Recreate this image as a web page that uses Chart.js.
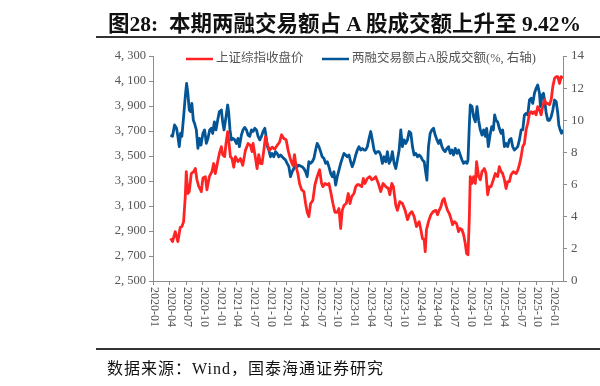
<!DOCTYPE html>
<html><head><meta charset="utf-8">
<script src="https://cdn.jsdelivr.net/npm/chart.js@4"></script>
<style>
html,body{margin:0;padding:0;background:#fff;}
#wrap{position:relative;width:600px;height:386px;overflow:hidden;}
canvas{position:absolute;left:0;top:0;}
#title{position:absolute;left:108px;top:6px;font:bold 21.5px "Liberation Serif","Noto Sans CJK SC";color:#111;white-space:nowrap;}
#l1{position:absolute;left:96px;top:36px;width:504px;height:2px;background:#333;}
#l2{position:absolute;left:96px;top:348px;width:504px;height:2px;background:#333;}
#src{position:absolute;left:107px;top:355px;font:16px "Liberation Serif","Noto Sans CJK SC";letter-spacing:1px;color:#111;white-space:nowrap;}
</style></head>
<body><div id="wrap">
<canvas id="c" width="600" height="386"></canvas>
<div id="title">图28:&nbsp; 本期两融交易额占 A 股成交额上升至 9.42%</div>
<div id="l1"></div>
<div id="src">数据来源：Wind，国泰海通证券研究</div>
<div id="l2"></div>
</div>
<script>
const seriesNames = ["上证综指收盘价", "两融交易额占A股成交额(%, 右轴)"];
const leftTicks = [2500, 4300, 200];
const rightTicks = [0, 14, 2];
const xRange = [2020.0, 2026.15];

const redDates = [2020.263,2020.293,2020.334,2020.373,2020.409,2020.433,2020.459,2020.484,2020.499,2020.523,2020.544,2020.574,2020.609,2020.635,2020.659,2020.684,2020.725,2020.749,2020.785,2020.809,2020.845,2020.884,2020.910,2020.935,2020.959,2020.995,
2021.026,2021.045,2021.075,2021.095,2021.120,2021.135,2021.161,2021.185,2021.211,2021.236,2021.275,2021.311,2021.346,2021.386,2021.426,2021.462,2021.486,2021.501,2021.526,2021.561,2021.586,2021.612,2021.636,2021.662,2021.687,2021.711,2021.747,2021.787,2021.827,2021.862,2021.898,2021.928,2021.962,2021.997,
2022.027,2022.063,2022.098,2022.123,2022.147,2022.173,2022.198,2022.229,2022.263,2022.289,2022.313,2022.338,2022.364,2022.398,2022.429,2022.463,2022.499,2022.529,2022.549,2022.579,2022.614,2022.639,2022.665,2022.699,2022.729,2022.764,2022.789,2022.815,2022.839,2022.865,2022.899,2022.929,2022.955,2022.980,
2023.015,2023.041,2023.065,2023.090,2023.131,2023.155,2023.180,2023.215,2023.251,2023.281,2023.316,2023.341,2023.380,2023.416,2023.451,2023.492,2023.531,2023.552,2023.582,2023.606,2023.642,2023.666,2023.702,2023.741,2023.782,2023.817,2023.853,2023.883,2023.917,2023.952,2023.992,
2024.018,2024.042,2024.068,2024.083,2024.102,2024.132,2024.168,2024.203,2024.244,2024.268,2024.293,2024.319,2024.343,2024.368,2024.394,2024.418,2024.444,2024.469,2024.493,2024.519,2024.553,2024.583,2024.605,2024.635,2024.659,2024.684,2024.704,2024.725,2024.744,2024.759,2024.785,2024.809,2024.835,2024.854,2024.884,2024.910,2024.935,2024.970,2024.995,
2025.020,2025.045,2025.071,2025.105,2025.135,2025.170,2025.195,2025.221,2025.245,2025.271,2025.296,2025.320,2025.346,2025.371,2025.406,2025.447,2025.471,2025.496,2025.522,2025.546,2025.571,2025.597,2025.621,2025.647,2025.672,2025.696,2025.722,2025.747,2025.771,2025.797,2025.822,2025.846,2025.872,2025.898,2025.922,2025.947,2025.973,2025.997,
2026.023,2026.048,2026.072,2026.098,2026.123,2026.147];
const redValues = [2841,2815,2895,2815,2930,2935,2975,3175,3375,3200,3215,3360,3375,3400,3310,3260,3215,3325,3335,3230,3335,3375,3440,3360,3425,3520,
3575,3510,3495,3600,3695,3630,3495,3480,3410,3495,3455,3480,3425,3545,3600,3585,3535,3600,3520,3400,3510,3440,3440,3545,3655,3600,3545,3570,3555,3585,3610,3670,3640,3630,
3545,3470,3425,3510,3410,3360,3280,3230,3215,3120,3050,3015,3120,3145,3270,3335,3390,3280,3255,3280,3270,3280,3215,3120,3050,3050,3080,2920,3065,3105,3120,3200,3120,3175,
3200,3255,3270,3270,3255,3320,3280,3320,3335,3310,3320,3335,3280,3215,3280,3255,3240,3190,3280,3255,3105,3065,3135,3120,3065,2990,3040,3055,3015,2935,2975,
2910,2840,2830,2735,2910,2975,3030,3055,3065,3030,3065,3095,3145,3160,3105,3065,3040,3000,2950,2975,2960,2895,2920,2910,2870,2800,2720,2710,2990,3335,3280,3335,3280,3455,3335,3310,3375,3400,3360,
3190,3255,3255,3310,3360,3335,3415,3375,3360,3310,3240,3295,3295,3350,3375,3360,3385,3430,3495,3575,3600,3710,3760,3840,3855,3840,3855,3830,3895,3870,3830,3895,3950,3920,3920,3910,3950,4055,
4120,4135,4135,4080,4135,4120];

const blueDates = [2020.263,2020.293,2020.323,2020.353,2020.373,2020.394,2020.414,2020.433,2020.459,2020.484,2020.504,2020.523,2020.544,2020.564,2020.583,2020.605,2020.624,2020.650,2020.674,2020.695,2020.719,2020.749,2020.774,2020.800,2020.824,2020.850,2020.875,2020.895,2020.920,2020.944,2020.970,2020.995,
2021.026,2021.045,2021.065,2021.095,2021.120,2021.135,2021.155,2021.176,2021.200,2021.226,2021.251,2021.275,2021.296,2021.326,2021.350,2021.376,2021.402,2021.426,2021.451,2021.477,2021.501,2021.526,2021.552,2021.576,2021.602,2021.627,2021.651,2021.677,2021.696,2021.717,2021.737,2021.762,2021.786,2021.812,2021.838,2021.862,2021.887,2021.913,2021.937,2021.962,2021.988,
2022.012,2022.038,2022.063,2022.087,2022.113,2022.138,2022.162,2022.188,2022.214,2022.238,2022.263,2022.289,2022.313,2022.338,2022.364,2022.388,2022.414,2022.439,2022.463,2022.489,2022.514,2022.538,2022.564,2022.589,2022.614,2022.639,2022.665,2022.689,2022.714,2022.740,2022.764,2022.789,2022.815,2022.839,2022.865,2022.890,2022.914,2022.940,2022.965,2022.989,
2023.015,2023.041,2023.065,2023.090,2023.116,2023.140,2023.165,2023.191,2023.215,2023.241,2023.266,2023.290,2023.316,2023.341,2023.365,2023.391,2023.416,2023.441,2023.466,2023.492,2023.516,2023.541,2023.567,2023.591,2023.617,2023.642,2023.666,2023.692,2023.717,2023.741,2023.767,2023.792,2023.817,2023.842,2023.868,2023.892,2023.917,2023.943,2023.967,2023.992,
2024.018,2024.042,2024.068,2024.093,2024.108,2024.132,2024.158,2024.183,2024.208,2024.233,2024.259,2024.283,2024.308,2024.334,2024.358,2024.383,2024.409,2024.433,2024.459,2024.484,2024.508,2024.534,2024.559,2024.583,2024.609,2024.635,2024.659,2024.684,2024.710,2024.725,2024.744,2024.759,2024.785,2024.809,2024.835,2024.860,2024.884,2024.910,2024.935,2024.959,2024.985,
2025.005,2025.030,2025.056,2025.080,2025.105,2025.125,2025.146,2025.170,2025.195,2025.221,2025.245,2025.271,2025.296,2025.320,2025.346,2025.371,2025.395,2025.421,2025.447,2025.471,2025.496,2025.522,2025.546,2025.571,2025.597,2025.621,2025.647,2025.672,2025.696,2025.722,2025.747,2025.771,2025.797,2025.812,2025.838,2025.857,2025.877,2025.898,2025.922,2025.947,2025.973,2025.997,
2026.023,2026.048,2026.072,2026.087,2026.108,2026.128,2026.147];
const blueValues = [9.08,9.0,9.71,9.5,9.0,8.36,9.2,9.0,10.22,11.47,12.3,11.68,10.64,10.54,11.05,10.0,9.8,9.4,8.25,8.87,8.45,9.18,9.4,8.56,8.87,9.4,9.5,9.18,9.9,9.4,10.0,10.53,
10.64,9.9,9.4,10.2,10.95,10.5,9.4,8.78,8.87,8.78,8.56,8.87,8.36,9.08,9.4,9.56,9.4,9.08,9.0,9.4,9.3,9.5,9.4,9.0,8.78,9.0,9.3,9.5,9.0,8.36,8.15,7.73,7.94,7.73,8.05,7.94,7.73,7.84,7.73,7.63,7.53,
7.32,7.11,6.49,6.8,7.0,7.32,7.11,7.21,7.15,7.11,7.0,6.8,6.49,7.42,7.32,7.42,7.63,8.15,8.56,8.36,8.05,7.73,7.63,7.32,7.42,7.11,6.7,6.49,6.8,5.97,6.49,6.9,7.32,7.63,7.94,7.84,7.73,7.84,7.42,7.11,
7.42,7.84,8.15,8.36,8.15,8.25,8.15,8.15,8.36,8.87,9.3,8.78,8.15,7.94,8.05,8.05,7.84,7.32,7.73,7.42,8.05,7.32,7.53,8.05,7.32,7.0,7.53,8.15,9.4,8.36,8.78,8.56,8.78,9.3,9.19,8.36,7.84,7.94,7.73,7.84,
7.73,7.53,7.42,6.7,6.28,8.36,9.19,9.4,9.5,9.08,8.78,8.56,8.78,8.36,8.15,8.05,8.25,8.36,7.94,8.15,7.84,8.25,7.94,8.15,7.84,7.53,7.32,7.42,7.32,7.53,9.6,10.95,10.85,10.22,9.9,10.85,10.0,9.4,9.08,9.4,9.0,
9.5,8.36,9.08,9.6,9.4,10.33,10.0,9.9,9.5,9.19,9.4,8.36,8.56,8.36,8.78,8.87,8.36,8.15,8.25,8.36,8.78,9.4,9.4,10.33,10.43,10.33,11.26,11.37,11.05,11.68,11.99,12.2,11.68,10.85,11.58,11.68,11.16,10.43,10.0,10.0,10.22,10.64,
11.26,11.16,10.43,9.7,9.4,9.19,9.42];

const RED = '#FF2424', BLUE = '#045596', AXIS = '#8c8c8c', TXT = '#555555';
const SERIF = '"Liberation Serif","Noto Sans CJK SC"';

function fmtQuarter(v){
  const y = Math.floor(v + 1e-6);
  const m = Math.round((v - y) * 12) + 1;
  return y + '-' + (m < 10 ? '0' + m : m);
}
function fmtThousands(v){
  const s = String(v);
  return s.length > 3 ? s.slice(0, s.length - 3) + ', ' + s.slice(-3) : s;
}

const xLabels = {
  id: 'xLabels',
  afterDraw(chart){
    const sc = chart.scales.x, ctx = chart.ctx;
    ctx.save();
    ctx.font = '12px ' + SERIF;
    ctx.fillStyle = TXT;
    ctx.textAlign = 'left';
    ctx.textBaseline = 'middle';
    sc.ticks.forEach(t => {
      const x = sc.getPixelForValue(t.value);
      ctx.save();
      ctx.translate(x + 1, sc.top + 6);
      ctx.rotate(Math.PI / 2);
      ctx.fillText(fmtQuarter(t.value), 0, 0);
      ctx.restore();
    });
    ctx.restore();
  }
};

const legendPlugin = {
  id: 'myLegend',
  afterDraw(chart){
    const ctx = chart.ctx, a = chart.chartArea;
    const y = a.top + 3;
    const starts = [a.left + 33, a.left + 169];
    ctx.save();
    ctx.font = '12.5px ' + SERIF;
    ctx.textBaseline = 'middle';
    chart.data.datasets.forEach((ds, i) => {
      const x = starts[i];
      ctx.strokeStyle = ds.borderColor;
      ctx.lineWidth = 2.5;
      ctx.beginPath(); ctx.moveTo(x, y); ctx.lineTo(x + 27, y); ctx.stroke();
      ctx.fillStyle = TXT;
      ctx.fillText(ds.label, x + 30, y);
    });
    ctx.restore();
  }
};

new Chart(document.getElementById('c'), {
  type: 'line',
  data: {
    datasets: [
      { label: seriesNames[0], data: redDates.map((d, i) => ({x: d, y: redValues[i]})), borderColor: RED, borderWidth: 2.8, pointRadius: 0, tension: 0, borderJoinStyle: 'round', yAxisID: 'y' },
      { label: seriesNames[1], data: blueDates.map((d, i) => ({x: d, y: blueValues[i]})), borderColor: BLUE, borderWidth: 2.8, pointRadius: 0, tension: 0, borderJoinStyle: 'round', yAxisID: 'y1' }
    ]
  },
  options: {
    responsive: false,
    animation: false,
    layout: { padding: { left: 108, right: 7, top: 56, bottom: 45 } },
    plugins: { legend: { display: false }, tooltip: { enabled: false } },
    scales: {
      x: {
        type: 'linear', min: xRange[0], max: xRange[1],
        afterFit(s){ s.height = 60; },
        ticks: { stepSize: 0.25, includeBounds: false, display: false },
        grid: { display: true, drawOnChartArea: false, drawTicks: true, tickLength: 4, color: AXIS },
        border: { display: true, color: AXIS, width: 1 }
      },
      y: {
        position: 'left', min: leftTicks[0], max: leftTicks[1],
        afterFit(s){ s.width = 45; },
        ticks: { stepSize: leftTicks[2], padding: 3, color: TXT, font: { family: SERIF, size: 12.5 },
          callback: v => fmtThousands(v) },
        grid: { display: true, drawOnChartArea: false, drawTicks: true, tickLength: 4, color: AXIS },
        border: { display: true, color: AXIS, width: 1 }
      },
      y1: {
        position: 'right', min: rightTicks[0], max: rightTicks[1],
        afterFit(s){ s.width = 30; },
        ticks: { stepSize: rightTicks[2], padding: 4, color: TXT, font: { family: SERIF, size: 13 } },
        grid: { display: true, drawOnChartArea: false, drawTicks: true, tickLength: 4, color: AXIS },
        border: { display: true, color: AXIS, width: 1 }
      }
    }
  },
  plugins: [xLabels, legendPlugin]
});
</script>
</body></html>
